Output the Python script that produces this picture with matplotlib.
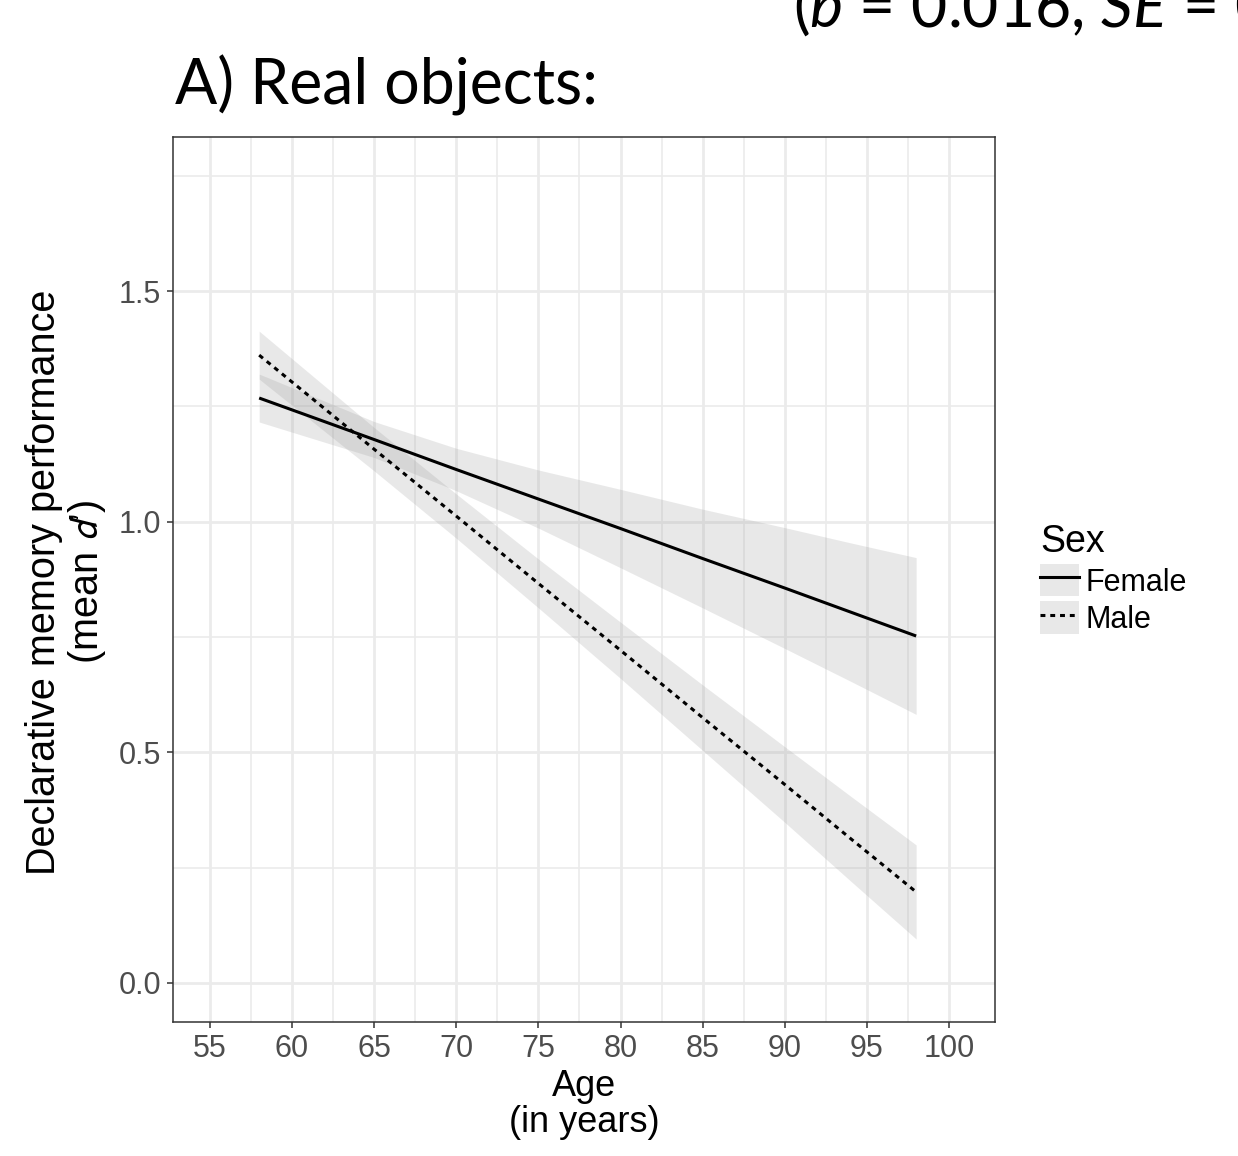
import matplotlib
matplotlib.use("Agg")
import matplotlib.pyplot as plt
from matplotlib.patches import Patch
from matplotlib.lines import Line2D

plt.rcParams['font.family'] = ['Liberation Sans', 'DejaVu Sans']
plt.rcParams['mathtext.fontset'] = 'custom'
plt.rcParams['mathtext.rm'] = 'Lato'
plt.rcParams['mathtext.it'] = 'Lato:italic'

# values (fitted line and 95% band per sex)
ages = [58, 65, 70, 75, 80, 85, 90, 94, 98]
female_fit = [1.268, 1.178, 1.113, 1.049, 0.985, 0.920, 0.856, 0.804, 0.752]
female_lo = [1.216, 1.139, 1.067, 0.986, 0.900, 0.813, 0.725, 0.654, 0.582]
female_hi = [1.320, 1.217, 1.159, 1.112, 1.070, 1.027, 0.987, 0.954, 0.922]
male_fit = [1.361, 1.157, 1.012, 0.866, 0.721, 0.575, 0.430, 0.313, 0.197]
male_lo = [1.309, 1.110, 0.964, 0.813, 0.660, 0.504, 0.348, 0.221, 0.095]
male_hi = [1.413, 1.204, 1.060, 0.919, 0.782, 0.646, 0.512, 0.405, 0.299]

sexes = ['Female', 'Male']
x_ticks = [55, 60, 65, 70, 75, 80, 85, 90, 95, 100]
y_ticks = [0.0, 0.5, 1.0, 1.5]

band_col = '#999999'
band_alpha = 0.22
dash = (0, (1.6, 1.6))

fig = plt.figure(figsize=(12.38, 11.56), dpi=100)
ax = fig.add_axes([0.1397, 0.1159, 0.664, 0.7656])

ax.fill_between(ages, female_lo, female_hi, color=band_col, alpha=band_alpha, lw=0)
ax.fill_between(ages, male_lo, male_hi, color=band_col, alpha=band_alpha, lw=0)
ax.plot(ages, female_fit, color='black', lw=2.2, ls='-', solid_capstyle='butt')
ax.plot(ages, male_fit, color='black', lw=2.2, ls=dash)

ax.set_xlim(52.75, 102.8)
ax.set_ylim(-0.085, 1.834)
ax.set_xticks(x_ticks)
ax.set_xticks([57.5 + 5 * i for i in range(9)], minor=True)
ax.set_yticks(y_ticks)
ax.set_yticks([0.25, 0.75, 1.25, 1.75], minor=True)
ax.set_yticklabels(['%.1f' % v for v in y_ticks])

ax.grid(which='major', color='#EBEBEB', lw=2.0)
ax.grid(which='minor', color='#EBEBEB', lw=1.2)
ax.set_axisbelow(True)
ax.tick_params(which='major', length=4.5, width=1.1, color='#333333',
               labelsize=22, labelcolor='#4D4D4D', pad=4)
ax.tick_params(which='minor', length=0)
for s in ax.spines.values():
    s.set_color('#333333')
    s.set_linewidth(1.1)

ax.set_xlabel('Age\n(in years)', fontsize=26, linespacing=1.05)
ax.xaxis.set_label_coords(0.5, -0.053)
ax.set_ylabel("Declarative memory performance\n(mean $\\mathit{d}$\u2019)", fontsize=28.5,
              linespacing=1.1, math_fontfamily='stixsans')
ax.yaxis.set_label_coords(-0.079, 0.497)

handles = [(Patch(facecolor=band_col, alpha=band_alpha, lw=0), Line2D([], [], color='black', lw=2.2)),
           (Patch(facecolor=band_col, alpha=band_alpha, lw=0), Line2D([], [], color='black', lw=2.2, ls=dash))]
leg = ax.legend(handles, sexes, title='Sex', loc='center left', bbox_to_anchor=(1.036, 0.5),
                frameon=False, fontsize=22, title_fontsize=27, handlelength=1.27,
                handleheight=1.24, labelspacing=0.13, handletextpad=0.22, borderpad=0)
leg._legend_box.align = 'left'

fig.text(175 / 1238, 1 - 105 / 1156, 'A) Real objects:', fontsize=45,
         family='Lato', va='baseline', ha='left')
fig.text(793 / 1238, 1 - 27 / 1156, r'($b$ = 0.016, $SE$ = 0.005)', fontsize=45,
         family='Lato', va='baseline', ha='left')

fig.savefig('out.png', dpi=100)
